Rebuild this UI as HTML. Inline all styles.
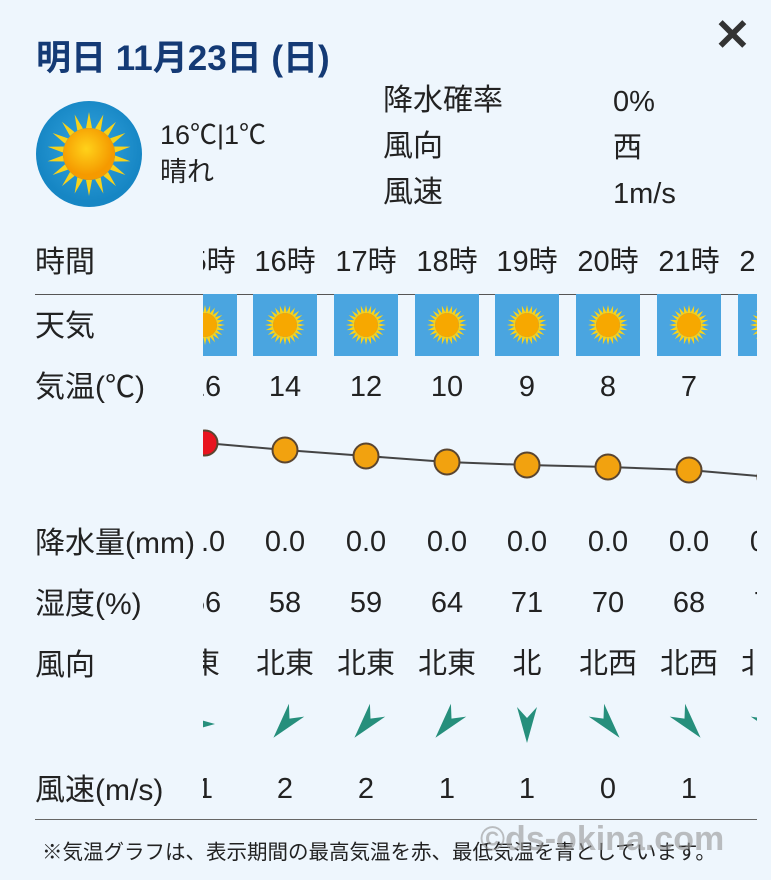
<!DOCTYPE html>
<html><head><meta charset="utf-8"><style>
body{margin:0;width:771px;height:880px;background:#eef6fd;overflow:hidden;font-family:"Liberation Sans","Noto Sans CJK JP",sans-serif;color:#222}
.a{position:absolute;white-space:nowrap}
</style></head><body>
<div class="a" style="left:36px;top:30px;font-size:35px;font-weight:bold;color:#143a75">明日 11月23日 (日)</div>
<div class="a" style="left:714px;top:10px;font-size:44px;font-weight:bold;color:#333">✕</div>
<svg class="a" style="left:35px;top:100px" width="108" height="108" viewBox="0 0 108 108">
<defs><radialGradient id="bg" cx="50%" cy="45%"><stop offset="0" stop-color="#36a6e0"/><stop offset="1" stop-color="#1686c4"/></radialGradient>
<radialGradient id="sg" cx="45%" cy="40%"><stop offset="0" stop-color="#ffd21a"/><stop offset="1" stop-color="#f59a00"/></radialGradient></defs>
<circle cx="54" cy="54" r="53" fill="url(#bg)"/>
<g fill="#f8d21a" transform="translate(54,54)">
<polygon points="0,-42 3,-26 -3,-26" transform="rotate(0)"/><polygon points="0,-42 3,-26 -3,-26" transform="rotate(20)"/><polygon points="0,-42 3,-26 -3,-26" transform="rotate(40)"/><polygon points="0,-42 3,-26 -3,-26" transform="rotate(60)"/><polygon points="0,-42 3,-26 -3,-26" transform="rotate(80)"/><polygon points="0,-42 3,-26 -3,-26" transform="rotate(100)"/><polygon points="0,-42 3,-26 -3,-26" transform="rotate(120)"/><polygon points="0,-42 3,-26 -3,-26" transform="rotate(140)"/><polygon points="0,-42 3,-26 -3,-26" transform="rotate(160)"/><polygon points="0,-42 3,-26 -3,-26" transform="rotate(180)"/><polygon points="0,-42 3,-26 -3,-26" transform="rotate(200)"/><polygon points="0,-42 3,-26 -3,-26" transform="rotate(220)"/><polygon points="0,-42 3,-26 -3,-26" transform="rotate(240)"/><polygon points="0,-42 3,-26 -3,-26" transform="rotate(260)"/><polygon points="0,-42 3,-26 -3,-26" transform="rotate(280)"/><polygon points="0,-42 3,-26 -3,-26" transform="rotate(300)"/><polygon points="0,-42 3,-26 -3,-26" transform="rotate(320)"/><polygon points="0,-42 3,-26 -3,-26" transform="rotate(340)"/>
</g><circle cx="54" cy="54" r="26" fill="url(#sg)"/></svg>
<div class="a" style="left:160px;top:117px;font-size:27px;line-height:37px">16℃|1℃<br>晴れ</div>
<div class="a" style="left:383px;top:78px;font-size:30px;line-height:46px">降水確率<br>風向<br>風速</div>
<div class="a" style="left:613px;top:79px;font-size:29px;line-height:46px">0%<br>西<br>1m/s</div>
<div class="a" style="left:35px;top:237px;font-size:30px">時間</div>
<div class="a" style="left:35px;top:294px;width:722px;border-top:1.5px solid #555"></div>
<div class="a" style="left:35px;top:301px;font-size:30px">天気</div>
<div class="a" style="left:35px;top:362px;font-size:30px">気温(℃)</div>
<div class="a" style="left:35px;top:518px;font-size:30px">降水量(mm)</div>
<div class="a" style="left:35px;top:579px;font-size:30px">湿度(%)</div>
<div class="a" style="left:35px;top:640px;font-size:30px">風向</div>
<div class="a" style="left:35px;top:765px;font-size:30px">風速(m/s)</div>
<div class="a" style="left:35px;top:819px;width:722px;border-top:1.5px solid #666"></div>
<div class="a" style="left:42px;top:835px;font-size:20.5px">※気温グラフは、表示期間の最高気温を赤、最低気温を青としています。</div>
<div class="a" style="left:480px;top:820px;font-size:34px;font-weight:bold;color:rgba(150,150,150,0.6)">©ds-okina.com</div>
<svg class="a" style="left:203px;top:230px" width="554" height="590" viewBox="203 230 554 590" font-family="Liberation Sans, Noto Sans CJK JP, sans-serif" font-size="29" fill="#222">
<defs><symbol id="sun" viewBox="-32 -31 64 62" overflow="visible"><rect x="-32" y="-31" width="64" height="62" fill="#4aa5e0"/>
<g fill="#f8d21a"><polygon points="0,-20 1.8,-12 -1.8,-12"/><polygon points="0,-20 1.8,-12 -1.8,-12" transform="rotate(15)"/><polygon points="0,-20 1.8,-12 -1.8,-12" transform="rotate(30)"/><polygon points="0,-20 1.8,-12 -1.8,-12" transform="rotate(45)"/><polygon points="0,-20 1.8,-12 -1.8,-12" transform="rotate(60)"/><polygon points="0,-20 1.8,-12 -1.8,-12" transform="rotate(75)"/><polygon points="0,-20 1.8,-12 -1.8,-12" transform="rotate(90)"/><polygon points="0,-20 1.8,-12 -1.8,-12" transform="rotate(105)"/><polygon points="0,-20 1.8,-12 -1.8,-12" transform="rotate(120)"/><polygon points="0,-20 1.8,-12 -1.8,-12" transform="rotate(135)"/><polygon points="0,-20 1.8,-12 -1.8,-12" transform="rotate(150)"/><polygon points="0,-20 1.8,-12 -1.8,-12" transform="rotate(165)"/><polygon points="0,-20 1.8,-12 -1.8,-12" transform="rotate(180)"/><polygon points="0,-20 1.8,-12 -1.8,-12" transform="rotate(195)"/><polygon points="0,-20 1.8,-12 -1.8,-12" transform="rotate(210)"/><polygon points="0,-20 1.8,-12 -1.8,-12" transform="rotate(225)"/><polygon points="0,-20 1.8,-12 -1.8,-12" transform="rotate(240)"/><polygon points="0,-20 1.8,-12 -1.8,-12" transform="rotate(255)"/><polygon points="0,-20 1.8,-12 -1.8,-12" transform="rotate(270)"/><polygon points="0,-20 1.8,-12 -1.8,-12" transform="rotate(285)"/><polygon points="0,-20 1.8,-12 -1.8,-12" transform="rotate(300)"/><polygon points="0,-20 1.8,-12 -1.8,-12" transform="rotate(315)"/><polygon points="0,-20 1.8,-12 -1.8,-12" transform="rotate(330)"/><polygon points="0,-20 1.8,-12 -1.8,-12" transform="rotate(345)"/></g>
<circle r="12" fill="#f7a800"/></symbol>
<polygon id="arr" points="0,18 -10,-18 0,-7 10,-18" fill="#268f7c"/></defs>
<g text-anchor="middle">
<text x="205" y="271">15時</text><text x="285" y="271">16時</text><text x="366" y="271">17時</text><text x="447" y="271">18時</text><text x="527" y="271">19時</text><text x="608" y="271">20時</text><text x="689" y="271">21時</text><text x="770" y="271">22時</text>
<use href="#sun" x="173" y="294" width="64" height="62"/><use href="#sun" x="253" y="294" width="64" height="62"/><use href="#sun" x="334" y="294" width="64" height="62"/><use href="#sun" x="415" y="294" width="64" height="62"/><use href="#sun" x="495" y="294" width="64" height="62"/><use href="#sun" x="576" y="294" width="64" height="62"/><use href="#sun" x="657" y="294" width="64" height="62"/><use href="#sun" x="738" y="294" width="64" height="62"/>
<text x="205" y="396">16</text><text x="285" y="396">14</text><text x="366" y="396">12</text><text x="447" y="396">10</text><text x="527" y="396">9</text><text x="608" y="396">8</text><text x="689" y="396">7</text>
<polyline points="205,443 285,450 366,456 447,462 527,465 608,467 689,470 770,477" fill="none" stroke="#444" stroke-width="2"/>
<g stroke="#5a4530" stroke-width="2"><circle cx="205" cy="443" r="12.5" fill="#e8141e"/><circle cx="285" cy="450" r="12.5" fill="#f2a20f"/><circle cx="366" cy="456" r="12.5" fill="#f2a20f"/><circle cx="447" cy="462" r="12.5" fill="#f2a20f"/><circle cx="527" cy="465" r="12.5" fill="#f2a20f"/><circle cx="608" cy="467" r="12.5" fill="#f2a20f"/><circle cx="689" cy="470" r="12.5" fill="#f2a20f"/><circle cx="770" cy="477" r="12.5" fill="#f2a20f"/></g>
<text x="205" y="551">0.0</text><text x="285" y="551">0.0</text><text x="366" y="551">0.0</text><text x="447" y="551">0.0</text><text x="527" y="551">0.0</text><text x="608" y="551">0.0</text><text x="689" y="551">0.0</text><text x="770" y="551">0.0</text>
<text x="205" y="612">56</text><text x="285" y="612">58</text><text x="366" y="612">59</text><text x="447" y="612">64</text><text x="527" y="612">71</text><text x="608" y="612">70</text><text x="689" y="612">68</text><text x="770" y="612">74</text>
<text x="191" y="673">北東</text><text x="285" y="673">北東</text><text x="366" y="673">北東</text><text x="447" y="673">北東</text><text x="527" y="673">北</text><text x="608" y="673">北西</text><text x="689" y="673">北西</text><text x="770" y="673">北西</text>
<use href="#arr" transform="translate(197,724) rotate(-90)"/><use href="#arr" transform="translate(285,724) rotate(40)"/><use href="#arr" transform="translate(366,724) rotate(40)"/><use href="#arr" transform="translate(447,724) rotate(40)"/><use href="#arr" transform="translate(527,725)"/><use href="#arr" transform="translate(608,724) rotate(-40)"/><use href="#arr" transform="translate(689,724) rotate(-40)"/><use href="#arr" transform="translate(770,724) rotate(-40)"/>
<text x="205" y="798">1</text><text x="285" y="798">2</text><text x="366" y="798">2</text><text x="447" y="798">1</text><text x="527" y="798">1</text><text x="608" y="798">0</text><text x="689" y="798">1</text>
</g></svg>
</body></html>
